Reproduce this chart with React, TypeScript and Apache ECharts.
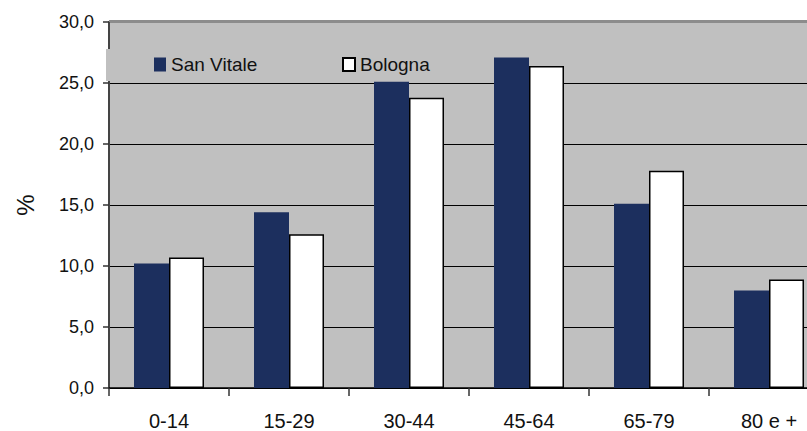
import React, { useEffect, useRef } from "react";
import * as echarts from "echarts";

const categories = ["0-14", "15-29", "30-44", "45-64", "65-79", "80 e +"];
const sanVitale = [10.2, 14.4, 25.1, 27.1, 15.1, 8.0];
const bologna = [10.7, 12.6, 23.8, 26.4, 17.8, 8.9];
const seriesNames = ["San Vitale", "Bologna"];

const FONT = "Arial, 'Liberation Sans', Helvetica, sans-serif";

export default function App() {
  const ref = useRef<HTMLDivElement>(null);

  useEffect(() => {
    document.body.style.margin = "0";
    if (!ref.current) return;
    const chart = echarts.init(ref.current, undefined, { renderer: "svg" });
    chart.setOption({
      animation: false,
      backgroundColor: "#ffffff",
      grid: {
        left: 109,
        top: 22,
        width: 720,
        height: 368,
        show: true,
        backgroundColor: "#c0c0c0",
        borderWidth: 0,
      },
      legend: [
        {
          data: [seriesNames[0]],
          left: 149,
          top: 50,
          icon: "rect",
          itemWidth: 12,
          itemHeight: 14,
          itemGap: 0,
          textStyle: { fontFamily: FONT, fontSize: 19, color: "#111" },
          z: 10,
        },
        {
          data: [seriesNames[1]],
          left: 337,
          top: 50,
          icon: "rect",
          itemWidth: 12,
          itemHeight: 13,
          itemGap: 0,
          textStyle: { fontFamily: FONT, fontSize: 19, color: "#111" },
          z: 10,
        },
      ],
      graphic: [
        {
          type: "rect",
          z: 1,
          shape: { x: 106, y: 49, width: 330, height: 32 },
          style: { fill: "#c0c0c0" },
        },
        {
          type: "line",
          z: 1,
          shape: { x1: 109, y1: 21, x2: 840, y2: 21 },
          style: { stroke: "#8c8c8c", lineWidth: 2 },
        },
      ],
      xAxis: {
        type: "category",
        data: categories,
        axisLine: { lineStyle: { color: "#000", width: 1.5 } },
        axisTick: { show: true, length: 8, lineStyle: { color: "#333", width: 1.5 } },
        axisLabel: {
          fontFamily: FONT,
          fontSize: 20,
          color: "#111",
          margin: 23,
        },
      },
      yAxis: {
        type: "value",
        min: 0,
        max: 30,
        interval: 5,
        name: "%",
        nameLocation: "middle",
        nameGap: 72,
        nameRotate: 90,
        nameTextStyle: { fontFamily: FONT, fontSize: 24, color: "#111" },
        axisLine: { show: true, lineStyle: { color: "#444", width: 2 } },
        axisTick: { show: true, length: 6, lineStyle: { color: "#333", width: 1.5 } },
        axisLabel: {
          fontFamily: FONT,
          fontSize: 18,
          color: "#111",
          margin: 15,
          formatter: (v: number) => v.toFixed(1).replace(".", ","),
        },
        splitLine: {
          show: true,
          lineStyle: {
            color: ["#000", "#000", "#000", "#000", "#000", "#000", "#8c8c8c"],
            width: 1,
          },
        },
      },
      series: [
        {
          name: seriesNames[0],
          type: "bar",
          data: sanVitale,
          barWidth: 35,
          barGap: "0%",
          itemStyle: { color: "#1c2f5e" },
        },
        {
          name: seriesNames[1],
          type: "bar",
          data: bologna,
          barWidth: 35,
          barGap: "0%",
          itemStyle: { color: "#ffffff", borderColor: "#000", borderWidth: 1.5 },
        },
      ],
    });
    return () => chart.dispose();
  }, []);

  return (
    <div style={{ width: 807, height: 431, overflow: "hidden" }}>
      <div ref={ref} style={{ width: 840, height: 431 }} />
    </div>
  );
}
